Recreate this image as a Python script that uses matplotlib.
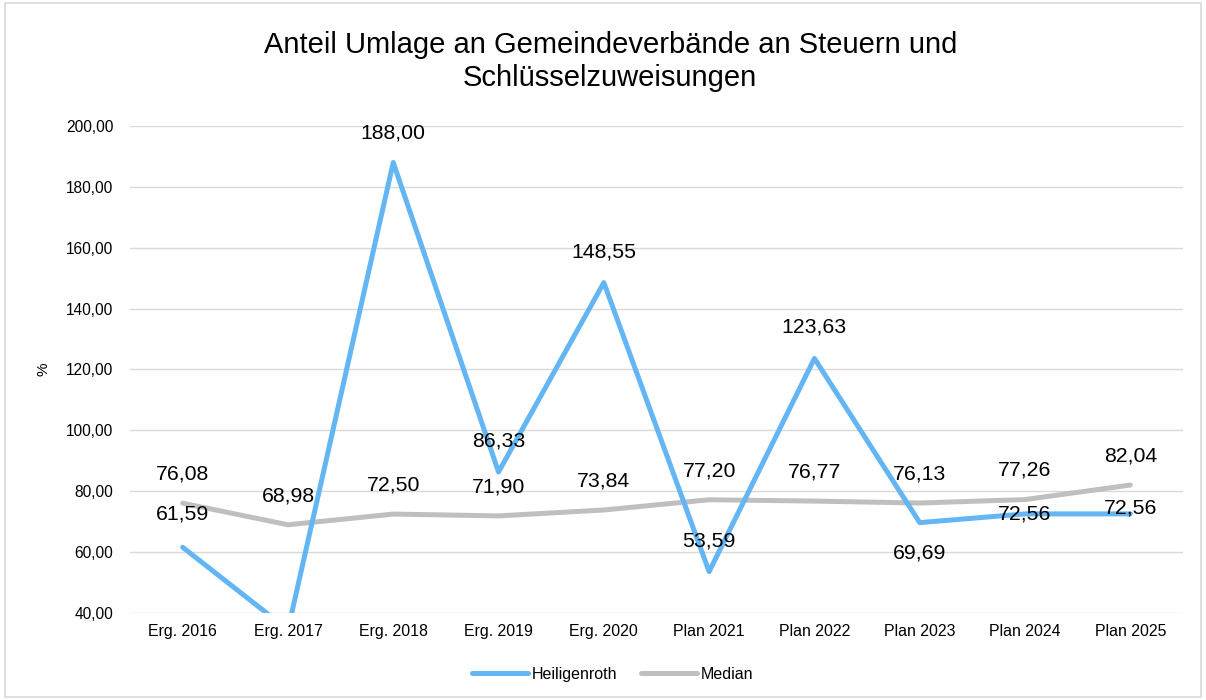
import matplotlib
matplotlib.use("Agg")
import matplotlib.pyplot as plt
from matplotlib.patches import Rectangle

plt.rcParams['font.family'] = ['Liberation Sans', 'DejaVu Sans']

categories = ["Erg. 2016", "Erg. 2017", "Erg. 2018", "Erg. 2019", "Erg. 2020",
              "Plan 2021", "Plan 2022", "Plan 2023", "Plan 2024", "Plan 2025"]
heiligenroth = [61.59, 34.5, 188.00, 86.33, 148.55, 53.59, 123.63, 69.69, 72.56, 72.56]
median = [76.08, 68.98, 72.50, 71.90, 73.84, 77.20, 76.77, 76.13, 77.26, 82.04]
yticks = [40, 60, 80, 100, 120, 140, 160, 180, 200]

title = "Anteil Umlage an Gemeindeverbände an Steuern und\nSchlüsselzuweisungen"
blue = "#63B5F3"
gray = "#BFBFBF"

# label vertical offsets in points (styling)
h_off = [24, None, 21, 22, 22, 22, 23, -22, 0, 4]
m_off = [21, 21, 21, 21, 21, 21, 21, 21, 21, 21]

def fmt(v):
    return f"{v:.2f}".replace(".", ",")

fig = plt.figure(figsize=(12.06, 7.0), dpi=100)
ax = fig.add_axes([0.1078, 0.1243, 0.8731, 0.6957])

x = list(range(len(categories)))
ax.plot(x, heiligenroth, color=blue, lw=3.6, solid_capstyle='round', solid_joinstyle='round', label="Heiligenroth", zorder=3)
ax.plot(x, median, color=gray, lw=3.6, solid_capstyle='round', solid_joinstyle='round', label="Median", zorder=2)

for xi, v, o in zip(x, heiligenroth, h_off):
    if o is None or v < 40:
        continue
    ax.annotate(fmt(v), (xi, v), xytext=(0, o), textcoords='offset points',
                ha='center', va='center', fontsize=15.3, color='black', zorder=5)
for xi, v, o in zip(x, median, m_off):
    ax.annotate(fmt(v), (xi, v), xytext=(0, o), textcoords='offset points',
                ha='center', va='center', fontsize=15.3, color='black', zorder=5)

ax.set_xlim(-0.5, len(categories) - 0.5)
ax.set_ylim(40, 200)
ax.set_yticks(yticks)
ax.set_yticklabels([fmt(t) for t in yticks], fontsize=11.2)
ax.set_xticks(x)
ax.set_xticklabels(categories, fontsize=11.4)
ax.tick_params(axis='y', length=0, pad=12)
ax.tick_params(axis='x', length=0, pad=8)
ax.grid(axis='y', color='#D9D9D9', lw=1)
ax.set_axisbelow(True)
for s in ax.spines.values():
    s.set_visible(False)
ax.set_ylabel("%", fontsize=11, labelpad=11)

fig.text(0.506, 0.912, title, ha='center', va='center', fontsize=21, linespacing=1.2)

fig.legend(loc='center', bbox_to_anchor=(0.508, 0.037), ncol=2, frameon=False,
           fontsize=11.5, handlelength=3.5, columnspacing=1.5, handletextpad=0.25)

fig.patches.append(Rectangle((0.004, 0.004), 0.992, 0.992, transform=fig.transFigure,
                             fill=False, edgecolor='#D9D9D9', lw=1.2))

fig.savefig("out.png", dpi=100)
